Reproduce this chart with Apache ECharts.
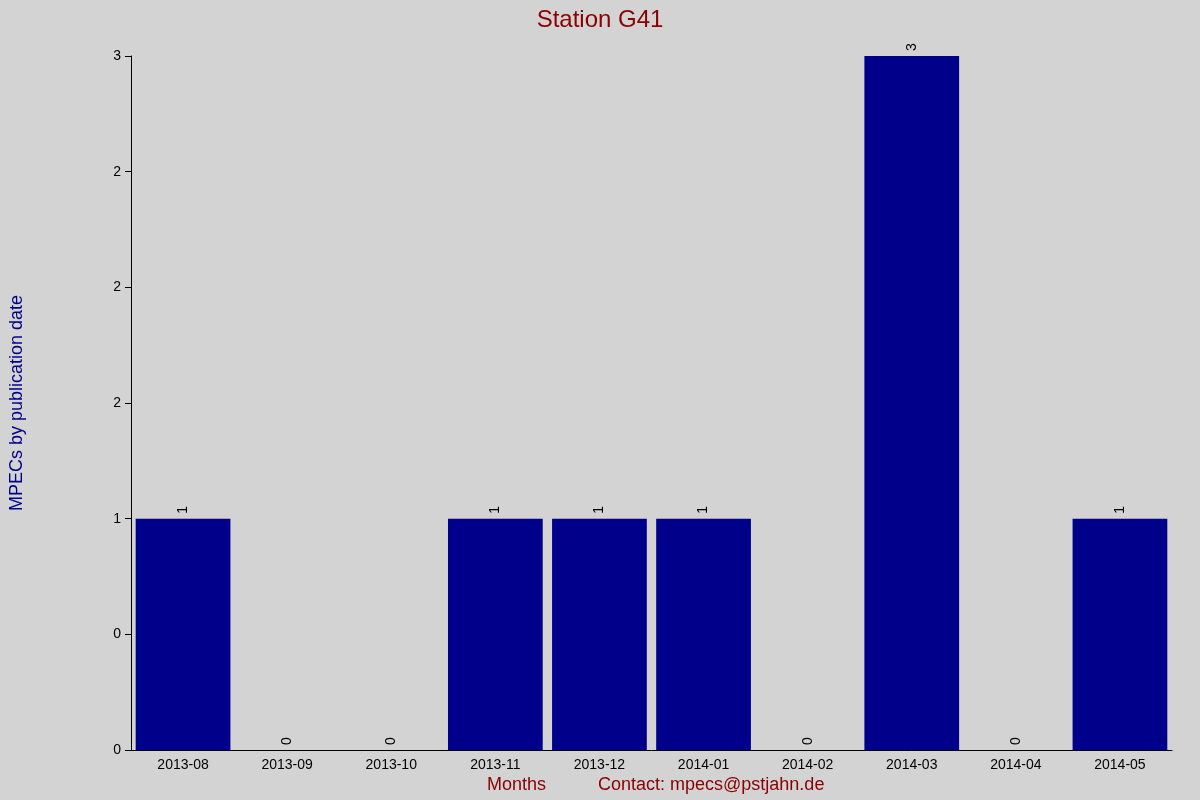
<!DOCTYPE html>
<html><head><meta charset="utf-8">
<script src="https://cdn.jsdelivr.net/npm/echarts@6/dist/echarts.min.js"></script>
<style>html,body{margin:0;padding:0;background:#d3d3d3}#c{width:1200px;height:800px}</style>
</head><body><div id="c"></div>
<script>
const categories=["2013-08","2013-09","2013-10","2013-11","2013-12","2014-01","2014-02","2014-03","2014-04","2014-05"];
const values=[1,0,0,1,1,1,0,3,0,1];
const yTickValues=[0,0.5,1,1.5,2,2.5,3];
const yTickLabels=["0","0","1","2","2","2","3"];
const chart=echarts.init(document.getElementById('c'));
chart.setOption({
  backgroundColor:'#d3d3d3',
  animation:false,
  title:{text:'Station G41',left:'center',top:3,textStyle:{color:'#8b0000',fontSize:24,fontWeight:'normal',fontFamily:'Liberation Sans'}},
  grid:{left:125,right:28,top:56,bottom:50},
  xAxis:{type:'category',data:categories,
    axisLine:{lineStyle:{color:'#000'}},axisTick:{show:false},
    axisLabel:{color:'#000',fontSize:14,fontFamily:'Liberation Sans',margin:8}},
  yAxis:{type:'value',min:0,max:3,interval:0.5,
    axisLine:{show:true,lineStyle:{color:'#000'}},axisTick:{show:true,length:6,lineStyle:{color:'#000'}},
    splitLine:{show:false},
    axisLabel:{color:'#000',fontSize:14,fontFamily:'Liberation Sans',margin:10,
      formatter:v=>{const i=yTickValues.indexOf(v);return i>=0?yTickLabels[i]:'';}},
    name:'MPECs by publication date',nameLocation:'middle',nameGap:105,
    nameTextStyle:{color:'#00008b',fontSize:18,fontFamily:'Liberation Sans'}},
  series:[{type:'bar',data:values,barCategoryGap:'9%',itemStyle:{color:'#00008b'},
    label:{show:true,position:'top',rotate:90,align:'left',verticalAlign:'middle',distance:5,color:'#000',fontSize:14,fontFamily:'Liberation Sans'}}],
  graphic:[
    {type:'text',left:487,top:776,style:{text:'Months',fill:'#8b0000',font:'18px Liberation Sans'}},
    {type:'text',left:598,top:776,style:{text:'Contact: mpecs@pstjahn.de',fill:'#8b0000',font:'18px Liberation Sans'}}
  ]
});
</script></body></html>
